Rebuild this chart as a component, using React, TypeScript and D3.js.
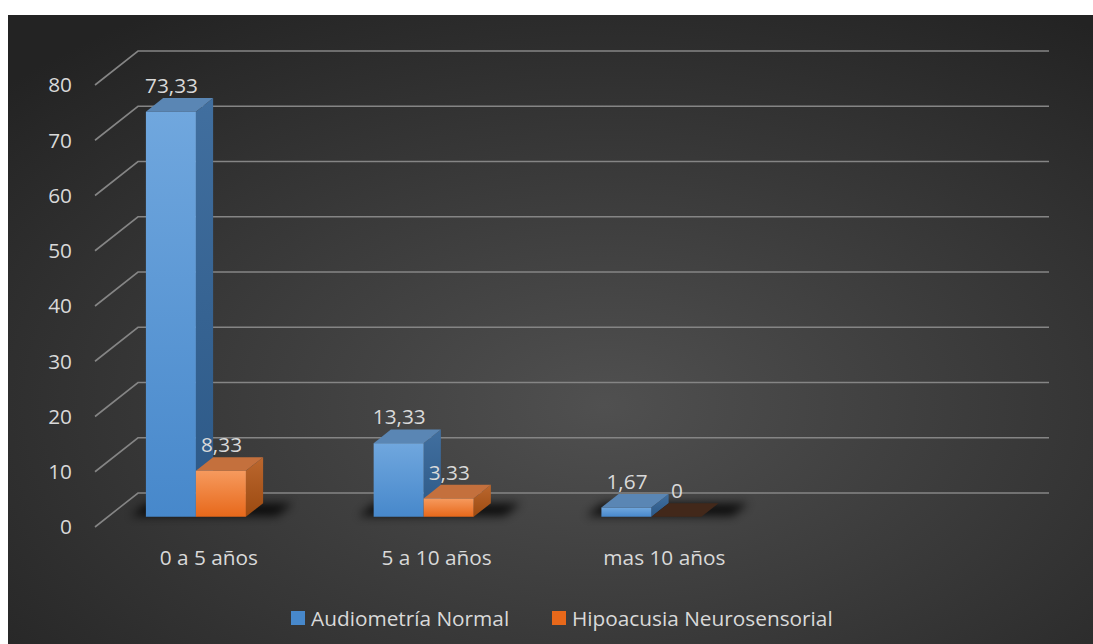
import React from "react";
import * as d3 from "d3";

// Age groups and the share (%) of each audiometry result
const categories = ["0 a 5 años", "5 a 10 años", "mas 10 años"];
const seriesNames = ["Audiometría Normal", "Hipoacusia Neurosensorial"];
const audiometriaNormal = [73.33, 13.33, 1.67];
const hipoacusiaNeurosensorial = [8.33, 3.33, 0];
const yTicks = [0, 10, 20, 30, 40, 50, 60, 70, 80];

const seriesValues = [audiometriaNormal, hipoacusiaNeurosensorial];

// 3D projection of the depth axis
const DX = 43;
const DY = 34;
const Z0 = 0.3;
const Z1 = 0.7;

const palette = [
  { frontTop: "#70a7de", frontBottom: "#4788cb", sideTop: "#416f9f", sideBottom: "#2c5886", top: "#5a86b4", zeroTop: "#2f4a66" },
  { frontTop: "#f69a5e", frontBottom: "#e7681a", sideTop: "#bb672e", sideBottom: "#9c4a10", top: "#c4703d", zeroTop: "#42281a" },
];

const fmt = (v: number) => String(v).replace(".", ",");

export default function App() {
  const x = d3.scaleBand<number>().domain([0, 1, 2, 3]).range([95, 1006]).padding(0);
  const bw = x.bandwidth();
  const xs = d3
    .scaleBand<number>()
    .domain([0, 1])
    .range([0, bw])
    .paddingInner(0)
    .paddingOuter(1.2775)
    .align(0.2975);
  const y = d3.scaleLinear().domain([0, 80]).range([527, 85]);

  const P = (wx: number, v: number, z: number): [number, number] => [wx + z * DX, y(v) - z * DY];
  const poly = (pts: [number, number][]) => pts.map((p) => p.join(",")).join(" ");

  const textColor = "#d9d9d9";
  const font = "'Open Sans', sans-serif";
  const fs = 20.8;

  return (
    <svg width={1093} height={644} style={{ position: "absolute", left: 0, top: 0 }}>
      <defs>
        <radialGradient id="bg" cx="0.55" cy="0.62" r="0.75">
          <stop offset="0" stopColor="#505050" />
          <stop offset="1" stopColor="#232323" />
        </radialGradient>
        {palette.map((c, i) => (
          <React.Fragment key={i}>
            <linearGradient id={`front${i}`} x1="0" y1="0" x2="0" y2="1">
              <stop offset="0" stopColor={c.frontTop} />
              <stop offset="1" stopColor={c.frontBottom} />
            </linearGradient>
            <linearGradient id={`side${i}`} x1="0" y1="0" x2="0" y2="1">
              <stop offset="0" stopColor={c.sideTop} />
              <stop offset="1" stopColor={c.sideBottom} />
            </linearGradient>
          </React.Fragment>
        ))}
        <filter id="shadow" x="-30%" y="-100%" width="160%" height="300%">
          <feGaussianBlur stdDeviation="5" />
        </filter>
      </defs>

      <rect x={8} y={15} width={1085} height={629} fill="url(#bg)" />

      {/* gridlines: front diagonal plus back wall line */}
      {yTicks.map((t) => {
        const [fx, fy] = P(95, t, 0);
        const [bx, by] = P(95, t, 1);
        return (
          <path
            key={t}
            d={`M${fx},${fy}L${bx},${by}L1049,${by}`}
            fill="none"
            stroke="#858585"
            strokeWidth={1.6}
          />
        );
      })}

      {yTicks.map((t) => (
        <text
          key={t}
          x={72}
          y={y(t)}
          dy="0.35em"
          textAnchor="end"
          fill={textColor}
          fontFamily={font}
          fontSize={fs}
        >
          {t}
        </text>
      ))}

      {/* floor shadows under each group */}
      {categories.map((_, i) => {
        const left = (x(i) as number) + (xs(0) as number) - 16;
        const right = (x(i) as number) + (xs(1) as number) + xs.bandwidth() + 30;
        return (
          <polygon
            key={i}
            points={poly([P(left, 0, Z0 + 0.02), P(right, 0, Z0 + 0.02), P(right, 0, Z1), P(left, 0, Z1)])}
            fill="#000"
            opacity={0.8}
            filter="url(#shadow)"
          />
        );
      })}

      {/* bars */}
      {categories.map((_, i) =>
        seriesValues.map((vals, s) => {
          const v = vals[i];
          const x0 = (x(i) as number) + (xs(s) as number);
          const x1 = x0 + xs.bandwidth();
          const c = palette[s];
          const front = [P(x0, v, Z0), P(x1, v, Z0), P(x1, 0, Z0), P(x0, 0, Z0)];
          const side = [P(x1, v, Z0), P(x1, v, Z1), P(x1, 0, Z1), P(x1, 0, Z0)];
          const top = [P(x0, v, Z0), P(x1, v, Z0), P(x1, v, Z1), P(x0, v, Z1)];
          return (
            <g key={`${i}-${s}`}>
              <polygon points={poly(side)} fill={`url(#side${s})`} />
              <polygon points={poly(top)} fill={v === 0 ? c.zeroTop : c.top} />
              {v > 0 && <polygon points={poly(front)} fill={`url(#front${s})`} />}
            </g>
          );
        })
      )}

      {/* value labels */}
      {categories.map((_, i) =>
        seriesValues.map((vals, s) => {
          const v = vals[i];
          const x0 = (x(i) as number) + (xs(s) as number);
          const [lx, ly] = P(x0 + xs.bandwidth() / 2, v, (Z0 + Z1) / 2);
          return (
            <text
              key={`l${i}-${s}`}
              x={lx - 8}
              y={ly - 12}
              textAnchor="middle"
              fill={textColor}
              fontFamily={font}
              fontSize={fs}
            >
              {fmt(v)}
            </text>
          );
        })
      )}

      {/* category labels */}
      {categories.map((c, i) => (
        <text
          key={c}
          x={(x(i) as number) + bw / 2}
          y={565}
          textAnchor="middle"
          fill={textColor}
          fontFamily={font}
          fontSize={fs}
        >
          {c}
        </text>
      ))}

      {/* legend */}
      {seriesNames.map((name, s) => {
        const lx = s === 0 ? 291 : 552;
        return (
          <g key={name}>
            <rect x={lx} y={611} width={14} height={14} fill={palette[s].frontBottom} />
            <text x={lx + 20} y={626} fill={textColor} fontFamily={font} fontSize={fs}>
              {name}
            </text>
          </g>
        );
      })}
    </svg>
  );
}
